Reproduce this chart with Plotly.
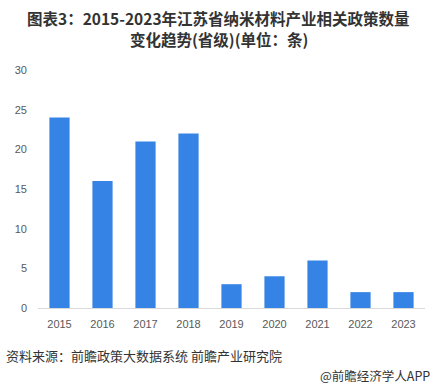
import plotly.graph_objects as go

years = ["2015", "2016", "2017", "2018", "2019", "2020", "2021", "2022", "2023"]
counts = [24, 16, 21, 22, 3, 4, 6, 2, 2]
y_ticks = [0, 5, 10, 15, 20, 25, 30]
title_lines = ["图表3：2015-2023年江苏省纳米材料产业相关政策数量", "变化趋势(省级)(单位：条)"]

W, H = 437, 389
L, R, T, B = 38, 12, 70, 81
ph = H - T - B
pw = W - L - R

def px(x):
    return (x - L) / pw

def py(y):
    return (H - B - y) / ph

fig = go.Figure(go.Bar(
    x=years, y=counts,
    marker=dict(color="#3483e5", line=dict(width=0)),
    hoverinfo="x+y",
))

title_anns = [
    dict(text="<b>" + t + "</b>",
         x=px(W / 2), xref="paper", y=py(yy), yref="paper", xanchor="center", yanchor="middle",
         showarrow=False, align="center", borderpad=0,
         font=dict(family="Noto Sans CJK SC", size=15.5, color="#333333"))
    for t, yy in zip(title_lines, [18, 39])
]

fig.update_layout(
    width=W, height=H,
    margin=dict(l=L, r=R, t=T, b=B),
    paper_bgcolor="white", plot_bgcolor="white",
    bargap=0.53,
    showlegend=False,
    font=dict(family="Noto Sans CJK SC", color="#595959"),
    xaxis=dict(
        type="category", showgrid=False, showline=True, linecolor="#d9d9d9", linewidth=1,
        ticks="", tickfont=dict(family="Liberation Sans", size=11, color="#595959"),
        ticklabelstandoff=6,
    ),
    yaxis=dict(
        range=[0, 30], tickvals=y_ticks, showgrid=False, zeroline=False, showline=False,
        ticks="", tickfont=dict(family="Liberation Sans", size=11, color="#595959"),
        ticklabelstandoff=10,
    ),
    annotations=title_anns + [
        dict(text="资料来源：前瞻政策大数据系统 前瞻产业研究院",
             x=px(4), xref="paper", y=py(355), yref="paper", xanchor="left", yanchor="middle",
             showarrow=False, font=dict(family="Noto Sans CJK SC", size=13, color="#333333")),
        dict(text="@前瞻经济学人APP",
             x=px(432), xref="paper", y=py(375), yref="paper", xanchor="right", yanchor="middle",
             showarrow=False, font=dict(family="Noto Sans CJK SC", size=12.5, color="#333333")),
    ],
)

fig.write_html("out.html", config={"displayModeBar": False},
               post_script="document.body.style.margin='0';document.body.style.overflow='hidden';")
